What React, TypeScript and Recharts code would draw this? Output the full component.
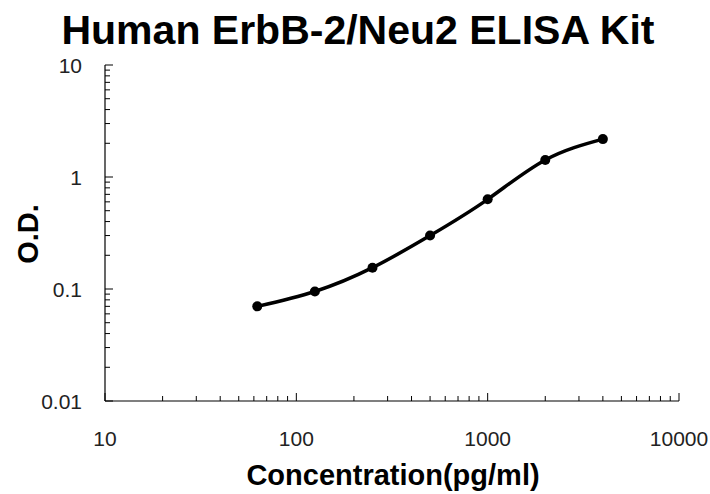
import React from "react";
import { LineChart, Line, XAxis, YAxis } from "recharts";

const concentrations = [62.5, 125, 250, 500, 1000, 2000, 4000];
const odValues = [0.07, 0.095, 0.155, 0.3, 0.632, 1.42, 2.18];

const xTicks = [
  10, 20, 30, 40, 50, 60, 70, 80, 90,
  100, 200, 300, 400, 500, 600, 700, 800, 900,
  1000, 2000, 3000, 4000, 5000, 6000, 7000, 8000, 9000, 10000,
];
const xMajor = [10, 100, 1000, 10000];
const yTicks = [
  0.01, 0.02, 0.03, 0.04, 0.05, 0.06, 0.07, 0.08, 0.09,
  0.1, 0.2, 0.3, 0.4, 0.5, 0.6, 0.7, 0.8, 0.9,
  1, 2, 3, 4, 5, 6, 7, 8, 9, 10,
];
const yMajor = [0.01, 0.1, 1, 10];

const title = "Human ErbB-2/Neu2 ELISA Kit";
const xTitle = "Concentration(pg/ml)";
const yTitle = "O.D.";

const data = concentrations.map((c, i) => ({ x: c, y: odValues[i] }));

const FONT = "'Liberation Sans', Arial, sans-serif";
const isMajor = (list: number[], v: number) => list.some((m) => Math.abs(m - v) < 1e-9);

const XTick = (props: any) => {
  const { x, y, payload } = props;
  const v = payload.value;
  const major = isMajor(xMajor, v);
  return (
    <g>
      <line x1={x} x2={x} y1={y} y2={y - (major ? 8 : 5)} stroke="#000" strokeWidth={1} />
      {major && (
        <text x={x} y={y + 45} textAnchor="middle" fontSize={21} fill="#222" fontFamily={FONT}>
          {String(v)}
        </text>
      )}
    </g>
  );
};

const YTick = (props: any) => {
  const { x, y, payload } = props;
  const v = payload.value;
  const major = isMajor(yMajor, v);
  return (
    <g>
      <line x1={x} x2={x + (major ? 8 : 5)} y1={y} y2={y} stroke="#000" strokeWidth={1} />
      {major && (
        <text x={x - 23} y={y} dy="0.36em" textAnchor="end" fontSize={21} fill="#222" fontFamily={FONT}>
          {String(v)}
        </text>
      )}
    </g>
  );
};

export default function App() {
  return (
    <div style={{ position: "absolute", left: 0, top: 0, width: 710, height: 494, background: "#fff" }}>
      <LineChart
        width={710}
        height={494}
        data={data}
        margin={{ top: 65, right: 31, left: 0, bottom: 0 }}
      >
        <XAxis
          dataKey="x"
          type="number"
          scale="log"
          domain={[10, 10000]}
          ticks={xTicks}
          interval={0}
          tickSize={0}
          tickMargin={0}
          tickLine={false}
          tick={<XTick />}
          height={93}
          allowDataOverflow
          axisLine={{ stroke: "#000", strokeWidth: 1.2 }}
        />
        <YAxis
          dataKey="y"
          type="number"
          scale="log"
          domain={[0.01, 10]}
          ticks={yTicks}
          interval={0}
          tickSize={0}
          tickMargin={0}
          tickLine={false}
          tick={<YTick />}
          width={105}
          allowDataOverflow
          axisLine={{ stroke: "#000", strokeWidth: 1.2 }}
        />
        <Line
          type="natural"
          dataKey="y"
          stroke="#000"
          strokeWidth={3.5}
          dot={{ r: 5, fill: "#000", stroke: "#000", strokeWidth: 0 }}
          activeDot={false}
          isAnimationActive={false}
        />
      </LineChart>
      <svg
        width={710}
        height={494}
        style={{ position: "absolute", left: 0, top: 0, pointerEvents: "none" }}
      >
        <text x={358} y={44} textAnchor="middle" fontSize={41} fontWeight="bold" fill="#000" fontFamily={FONT}>
          {title}
        </text>
        <text x={393} y={485} textAnchor="middle" fontSize={29} fontWeight="bold" fill="#000" fontFamily={FONT}>
          {xTitle}
        </text>
        <text
          x={38}
          y={234}
          textAnchor="middle"
          fontSize={29}
          fontWeight="bold"
          fill="#000"
          fontFamily={FONT}
          transform="rotate(-90, 38, 234)"
        >
          {yTitle}
        </text>
      </svg>
    </div>
  );
}
